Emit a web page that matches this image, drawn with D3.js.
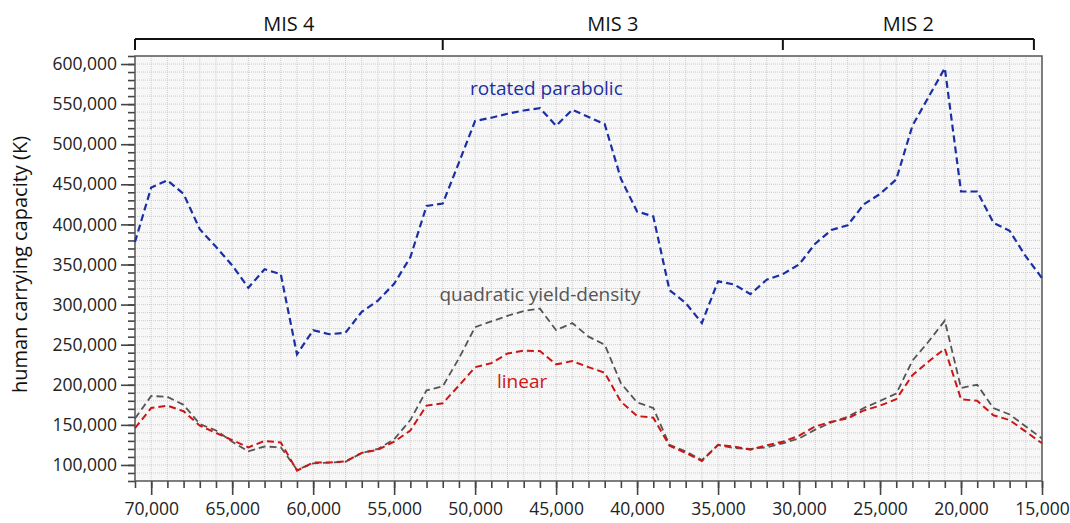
<!DOCTYPE html>
<html lang="en">
<head>
    <meta charset="utf-8">
    <title>Human carrying capacity</title>
    <script src="https://cdnjs.cloudflare.com/ajax/libs/d3/7.8.5/d3.min.js"></script>
    <style>
        body { margin: 0; background: #fff; }
        svg { font-family: "Open Sans", Lato, sans-serif; }
    </style>
</head>
<body>
<svg id="chart" width="1070" height="523"></svg>
<script>
    // years before present, one point per 1000 years
    var years = d3.range(71000, 14999, -1000);

    var rotatedParabolic = [378000, 446000, 455000, 438000, 394000, 372000, 349000, 321000, 344000, 338000,
        238000, 268000, 263000, 265000, 291000, 305000, 326000, 359000, 423000, 426000,
        477000, 529000, 533000, 538000, 542000, 545000, 523000, 543000, 534000, 525000,
        457000, 416000, 410000, 318000, 302000, 277000, 329000, 325000, 313000, 331000,
        338000, 350000, 376000, 393000, 399000, 425000, 438000, 456000, 523000, 559000,
        595000, 441000, 441000, 402000, 392000, 360000, 333000];

    var quadraticYD = [158000, 186000, 185000, 175000, 151000, 143000, 129000, 117000, 123000, 122000,
        94000, 102000, 103000, 104000, 115000, 120000, 132000, 156000, 193000, 198000,
        233000, 272000, 279000, 286000, 292000, 295000, 268000, 277000, 260000, 250000,
        202000, 178000, 171000, 125000, 117000, 106000, 125000, 121000, 120000, 122000,
        127000, 133000, 144000, 153000, 160000, 171000, 180000, 189000, 230000, 254000,
        280000, 196000, 200000, 171000, 163000, 148000, 133000];

    var linear = [146000, 171000, 174000, 167000, 149000, 140000, 131000, 122000, 130000, 128000,
        93000, 103000, 103000, 104500, 115000, 119000, 129000, 143000, 174000, 177000,
        199000, 222000, 227000, 239000, 242500, 242000, 225500, 229500, 222000, 215000,
        179000, 161000, 159000, 124000, 115000, 105000, 125000, 123000, 119000, 124500,
        129000, 136500, 148000, 154000, 158000, 168000, 174000, 182000, 212000, 229000,
        245000, 182000, 180000, 162000, 156000, 141500, 127000];

    var stages = [
        {name: "MIS 4", from: 71000, to: 52000},
        {name: "MIS 3", from: 52000, to: 31000},
        {name: "MIS 2", from: 31000, to: 15500}
    ];

    var series = [
        {values: rotatedParabolic, color: "#1b2fa5", width: 2.2, label: "rotated parabolic", lx: 45600, ly: 561000},
        {values: quadraticYD, color: "#555555", width: 1.8, label: "quadratic yield-density", lx: 46000, ly: 305000},
        {values: linear, color: "#cc1515", width: 2, label: "linear", lx: 47100, ly: 196000}
    ];

    var margin = {top: 56, right: 28, bottom: 42, left: 135};
    var width = 1070 - margin.left - margin.right,
        height = 523 - margin.top - margin.bottom;

    var svg = d3.select("#chart");
    var g = svg.append("g").attr("transform", `translate(${margin.left},${margin.top})`);

    var x = d3.scaleLinear().domain([71000, 15000]).range([0, width]);
    var y = d3.scaleLinear().domain([80000, 610000]).range([height, 0]);

    // plot background + grid
    g.append("rect").attr("width", width).attr("height", height).attr("fill", "#f7f7f7");

    g.selectAll("line.vgrid")
        .data(d3.range(70000, 15000, -1000))
        .enter().append("line")
        .attr("class", "vgrid")
        .attr("x1", d => x(d)).attr("x2", d => x(d))
        .attr("y1", 0).attr("y2", height)
        .style("stroke", "#cccccc").style("stroke-width", 1).style("stroke-dasharray", "1,1");

    g.selectAll("line.hgrid")
        .data(d3.range(90000, 610000, 10000))
        .enter().append("line")
        .attr("class", "hgrid")
        .attr("x1", 0).attr("x2", width)
        .attr("y1", d => y(d)).attr("y2", d => y(d))
        .style("stroke", "#cccccc").style("stroke-width", 1).style("stroke-dasharray", "1,1");

    // axes
    var fmt = d3.format(",");
    var yMinor = d3.axisLeft(y).tickValues(d3.range(80000, 610001, 10000)).tickSize(7).tickFormat("");
    var yMajor = d3.axisLeft(y).tickValues(d3.range(100000, 600001, 50000)).tickSize(14).tickPadding(4).tickFormat(fmt);
    var xMinor = d3.axisBottom(x).tickValues(d3.range(71000, 14999, -1000)).tickSize(7).tickFormat("");
    var xMajor = d3.axisBottom(x).tickValues(d3.range(70000, 14999, -5000)).tickSize(14).tickPadding(8).tickFormat(fmt);

    [yMinor, yMajor].forEach(a => g.append("g").call(a));
    [xMinor, xMajor].forEach(a => g.append("g").attr("transform", `translate(0,${height})`).call(a));

    g.selectAll(".domain").remove();
    g.selectAll(".tick line").style("stroke", "#444").style("stroke-width", 1.6);
    g.selectAll(".tick text").style("font-family", "'Open Sans', sans-serif").style("font-size", "17.5px").style("fill", "#222");

    // frame
    g.append("rect").attr("width", width).attr("height", height)
        .attr("fill", "none").style("stroke", "#555").style("stroke-width", 1.5);

    // series
    var line = d3.line().x((d, i) => x(years[i])).y(d => y(d));

    series.forEach(s => {
        g.append("path")
            .datum(s.values)
            .attr("d", line)
            .attr("fill", "none")
            .style("stroke", s.color)
            .style("stroke-width", s.width)
            .style("stroke-dasharray", "7,4");

        g.append("text")
            .attr("x", x(s.lx)).attr("y", y(s.ly))
            .style("text-anchor", "middle")
            .style("font-size", "19px")
            .style("fill", s.color)
            .text(s.label);
    });

    // MIS brackets
    var bracketY = -17;
    var mis = g.append("g");
    mis.append("line")
        .attr("x1", x(stages[0].from)).attr("x2", x(stages[stages.length - 1].to))
        .attr("y1", bracketY).attr("y2", bracketY)
        .style("stroke", "#111").style("stroke-width", 2);

    var edges = [stages[0].from].concat(stages.map(s => s.to));
    mis.selectAll("line.edge")
        .data(edges)
        .enter().append("line")
        .attr("class", "edge")
        .attr("x1", d => x(d)).attr("x2", d => x(d))
        .attr("y1", bracketY).attr("y2", bracketY + 11)
        .style("stroke", "#111").style("stroke-width", 2);

    mis.selectAll("text.stage")
        .data(stages)
        .enter().append("text")
        .attr("class", "stage")
        .attr("x", d => (x(d.from) + x(d.to)) / 2)
        .attr("y", bracketY - 8)
        .style("text-anchor", "middle")
        .style("font-size", "20px")
        .style("fill", "#111")
        .text(d => d.name);

    // y label
    svg.append("text")
        .attr("transform", `translate(27,${margin.top + height / 2 - 4}) rotate(-90)`)
        .style("text-anchor", "middle")
        .style("font-size", "20px")
        .style("fill", "#111")
        .text("human carrying capacity (K)");
</script>
</body>
</html>
